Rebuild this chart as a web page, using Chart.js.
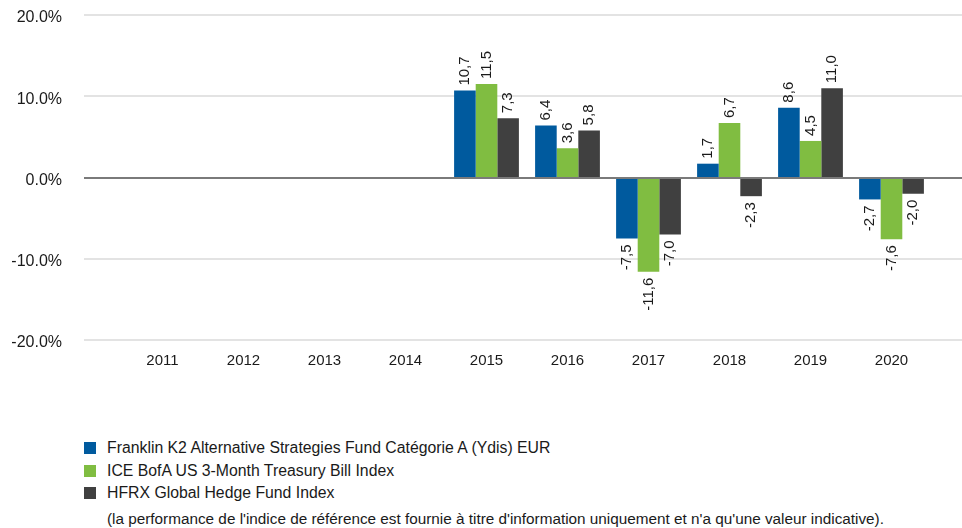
<!DOCTYPE html>
<html>
<head>
<meta charset="utf-8">
<script src="https://cdn.jsdelivr.net/npm/chart.js@4"></script>
<style>
    body { margin: 0; background: #fff; font-family: 'Liberation Sans', Arial, sans-serif; }
    #wrap { position: absolute; left: 0; top: 0; width: 962px; height: 400px; }
    #legend { position: absolute; left: 84px; top: 437px; font-size: 15.8px; color: #1a1a1a; }
    .item { height: 22.5px; line-height: 22.5px; display: flex; align-items: center; }
    .box { width: 12px; height: 12px; margin-right: 11px; }
    #note { position: absolute; left: 107px; top: 510px; font-size: 15.3px; color: #1a1a1a; white-space: nowrap; }
</style>
</head>
<body>
<div id="wrap"><canvas id="chart" width="962" height="400"></canvas></div>
<div id="legend"></div>
<div id="note">(la performance de l'indice de référence est fournie à titre d'information uniquement et n'a qu'une valeur indicative).</div>
<script>
const years = ['2011', '2012', '2013', '2014', '2015', '2016', '2017', '2018', '2019', '2020'];
const fundValues = [null, null, null, null, 10.7, 6.4, -7.5, 1.7, 8.6, -2.7];
const iceValues = [null, null, null, null, 11.5, 3.6, -11.6, 6.7, 4.5, -7.6];
const hfrxValues = [null, null, null, null, 7.3, 5.8, -7.0, -2.3, 11.0, -2.0];
const seriesNames = [
    'Franklin K2 Alternative Strategies Fund Catégorie A (Ydis) EUR',
    'ICE BofA US 3-Month Treasury Bill Index',
    'HFRX Global Hedge Fund Index'
];
const seriesColors = ['#005a9e', '#80bd41', '#404040'];
const yTicks = [-20, -10, 0, 10, 20];

const fontFamily = "'Liberation Sans', Arial, sans-serif";

// horizontal grid lines run wider than the bars, so draw them by hand
const gridPlugin = {
    id: 'wideGrid',
    beforeDatasetsDraw(chart) {
        const ctx = chart.ctx;
        const y = chart.scales.y;
        ctx.save();
        ctx.strokeStyle = '#e3e3e3';
        ctx.lineWidth = 2;
        yTicks.forEach(function (t) {
            if (t === 0) return;
            const py = Math.round(y.getPixelForValue(t));
            ctx.beginPath();
            ctx.moveTo(84, py);
            ctx.lineTo(962, py);
            ctx.stroke();
        });
        ctx.restore();
    },
    afterDatasetsDraw(chart) {
        const ctx = chart.ctx;
        const py = Math.round(chart.scales.y.getPixelForValue(0));
        ctx.save();
        ctx.strokeStyle = '#7a7a7a';
        ctx.lineWidth = 2;
        ctx.beginPath();
        ctx.moveTo(84, py);
        ctx.lineTo(962, py);
        ctx.stroke();
        ctx.restore();
    }
};

const labelPlugin = {
    id: 'barLabels',
    afterDatasetsDraw(chart) {
        const ctx = chart.ctx;
        ctx.save();
        ctx.font = '15px ' + fontFamily;
        ctx.fillStyle = '#1a1a1a';
        ctx.textBaseline = 'middle';
        chart.data.datasets.forEach(function (ds, i) {
            const meta = chart.getDatasetMeta(i);
            meta.data.forEach(function (bar, j) {
                const v = ds.data[j];
                if (v === null) return;
                const txt = v.toFixed(1).replace('.', ',');
                ctx.save();
                if (v >= 0) {
                    ctx.translate(bar.x, bar.y - 5);
                    ctx.rotate(-Math.PI / 2);
                    ctx.textAlign = 'left';
                } else {
                    ctx.translate(bar.x, bar.y + 6);
                    ctx.rotate(-Math.PI / 2);
                    ctx.textAlign = 'right';
                }
                ctx.fillText(txt, 0, 0);
                ctx.restore();
            });
        });
        ctx.restore();
    }
};

const ctx = document.getElementById('chart').getContext('2d');
new Chart(ctx, {
    type: 'bar',
    data: {
        labels: years,
        datasets: [fundValues, iceValues, hfrxValues].map(function (vals, i) {
            return {
                label: seriesNames[i],
                data: vals,
                backgroundColor: seriesColors[i],
                borderWidth: 0,
                barPercentage: 1.0,
                categoryPercentage: 0.8
            };
        })
    },
    options: {
        responsive: false,
        animation: false,
        layout: {padding: {top: 15, right: 30, left: 0, bottom: 0}},
        plugins: {
            legend: {display: false},
            tooltip: {enabled: false}
        },
        scales: {
            x: {
                grid: {display: false},
                border: {display: false},
                ticks: {color: '#1a1a1a', font: {family: fontFamily, size: 15}, padding: 4, maxRotation: 0},
                afterFit: function (scale) { scale.height = 60; }
            },
            y: {
                min: -20,
                max: 20,
                grid: {display: false, drawTicks: false},
                border: {display: false},
                afterBuildTicks: function (scale) {
                    scale.ticks = yTicks.map(v => ({value: v}));
                },
                ticks: {
                    color: '#1a1a1a',
                    font: {family: fontFamily, size: 16},
                    padding: 60,
                    labelOffset: 3,
                    callback: v => v.toFixed(1) + '%'
                },
                afterFit: function (scale) {
                    scale.width = 122;
                    scale.paddingTop = 0;
                    scale.paddingBottom = 0;
                }
            }
        }
    },
    plugins: [gridPlugin, labelPlugin]
});

const legend = document.getElementById('legend');
seriesNames.forEach(function (name, i) {
    const row = document.createElement('div');
    row.className = 'item';
    row.innerHTML = '<span class="box" style="background:' + seriesColors[i] + '"></span><span>' + name + '</span>';
    legend.appendChild(row);
});
</script>
</body>
</html>
